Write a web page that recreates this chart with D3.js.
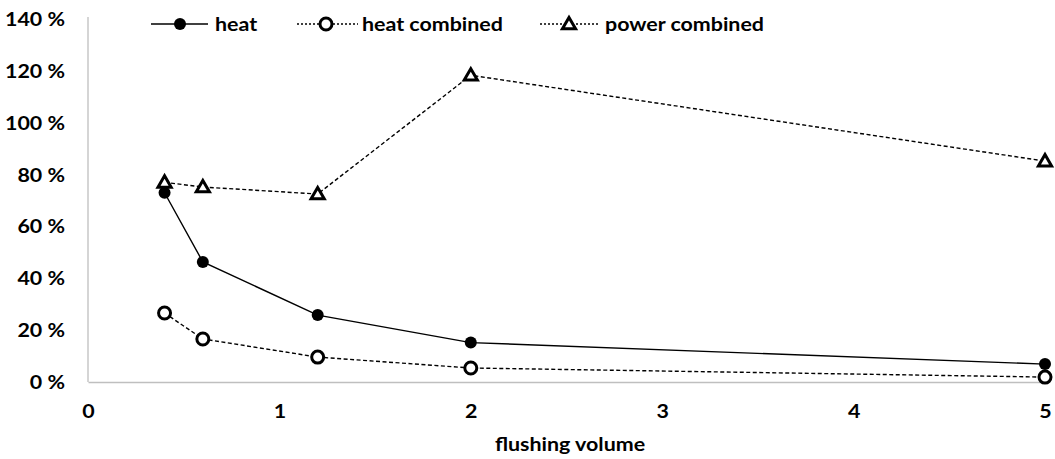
<!DOCTYPE html>
<html><head><meta charset="utf-8">
<script src="https://cdn.jsdelivr.net/npm/d3@7"></script>
<style>body{margin:0;background:#fff}text{font-family:Lato,"Open Sans",sans-serif;font-weight:bold;fill:#000}</style>
</head><body><svg id="c" width="1055" height="459"></svg>
<script>
const xValues = [0.4, 0.6, 1.2, 2, 5];
const heat = [73, 46.3, 25.8, 15.2, 6.9];
const heatCombined = [26.6, 16.6, 9.6, 5.4, 1.9];
const powerCombined = [77, 75.2, 72.5, 118.3, 85.2];
const yTicks = [0, 20, 40, 60, 80, 100, 120, 140];
const xTicks = [0, 1, 2, 3, 4, 5];
const seriesNames = ["heat", "heat combined", "power combined"];

const SX = 1.19, FS = "18px";
const svg = d3.select("#c");
const x = d3.scaleLinear().domain([0, 5]).range([88, 1045]);
const y = d3.scaleLinear().domain([0, 140]).range([382, 19]);

function stretch(sel) {
  sel.each(function() {
    const t = d3.select(this);
    const xv = +t.attr("x") || 0;
    t.attr("x", xv / SX).attr("transform", `scale(${SX},1)`).style("font-size", FS);
  });
}

// axes
const yAxis = svg.append("g").attr("transform", "translate(88,0)")
  .call(d3.axisLeft(y).tickValues(yTicks).tickSize(0).tickPadding(23).tickFormat(d => d + " %"));
yAxis.select(".domain").attr("stroke", "#bfbfbf").attr("stroke-width", 1.3).attr("d", "M0,17V382");
yAxis.selectAll("text").attr("dy", "0.36em").call(stretch);

const xAxis = svg.append("g").attr("transform", "translate(0,382)")
  .call(d3.axisBottom(x).tickValues(xTicks).tickSize(0).tickPadding(23).tickFormat(d3.format("d")));
xAxis.select(".domain").attr("stroke", "#bfbfbf").attr("stroke-width", 1.3);
xAxis.selectAll("text").call(stretch);

svg.append("g").attr("transform", "translate(570,451)")
  .append("text").attr("text-anchor", "middle").text("flushing volume").call(stretch);

const line = d3.line().x((d, i) => x(xValues[i])).y(d => y(d));
const tri = d3.symbol().type(d3.symbolTriangle).size(75);

function drawMarker(cx, cy, marker) {
  if (marker === "dot") svg.append("circle").attr("cx", cx).attr("cy", cy).attr("r", 6).attr("fill", "#000");
  else if (marker === "circle") svg.append("circle").attr("cx", cx).attr("cy", cy).attr("r", 6).attr("fill", "#fff").attr("stroke", "#000").attr("stroke-width", 3);
  else svg.append("path").attr("d", tri).attr("transform", `translate(${cx},${cy + 1})`).attr("fill", "#fff").attr("stroke", "#000").attr("stroke-width", 3);
}
function drawSeries(vals, dashed, marker) {
  svg.append("path").datum(vals).attr("d", line).attr("fill", "none")
    .attr("stroke", "#000").attr("stroke-width", 1.4)
    .attr("stroke-dasharray", dashed ? "4,2.5" : null);
  vals.forEach((v, i) => drawMarker(x(xValues[i]), y(v), marker));
}

drawSeries(powerCombined, true, "tri");
drawSeries(heat, false, "dot");
drawSeries(heatCombined, true, "circle");

// legend
const leg = [
  {name: seriesNames[0], x0: 151, x1: 208, m: 180, tx: 215, dashed: false, marker: "dot"},
  {name: seriesNames[1], x0: 297, x1: 358, m: 326, tx: 362, dashed: true, marker: "circle"},
  {name: seriesNames[2], x0: 540, x1: 598, m: 569, tx: 605, dashed: true, marker: "tri"}
];
leg.forEach(l => {
  svg.append("line").attr("x1", l.x0).attr("x2", l.x1).attr("y1", 24).attr("y2", 24)
    .attr("stroke", "#000").attr("stroke-width", 1.4).attr("stroke-dasharray", l.dashed ? "2,2" : null);
  drawMarker(l.m, 24, l.marker);
  svg.append("g").attr("transform", `translate(${l.tx},25)`)
    .append("text").attr("dy", "0.35em").text(l.name).call(stretch);
});
</script></body></html>
